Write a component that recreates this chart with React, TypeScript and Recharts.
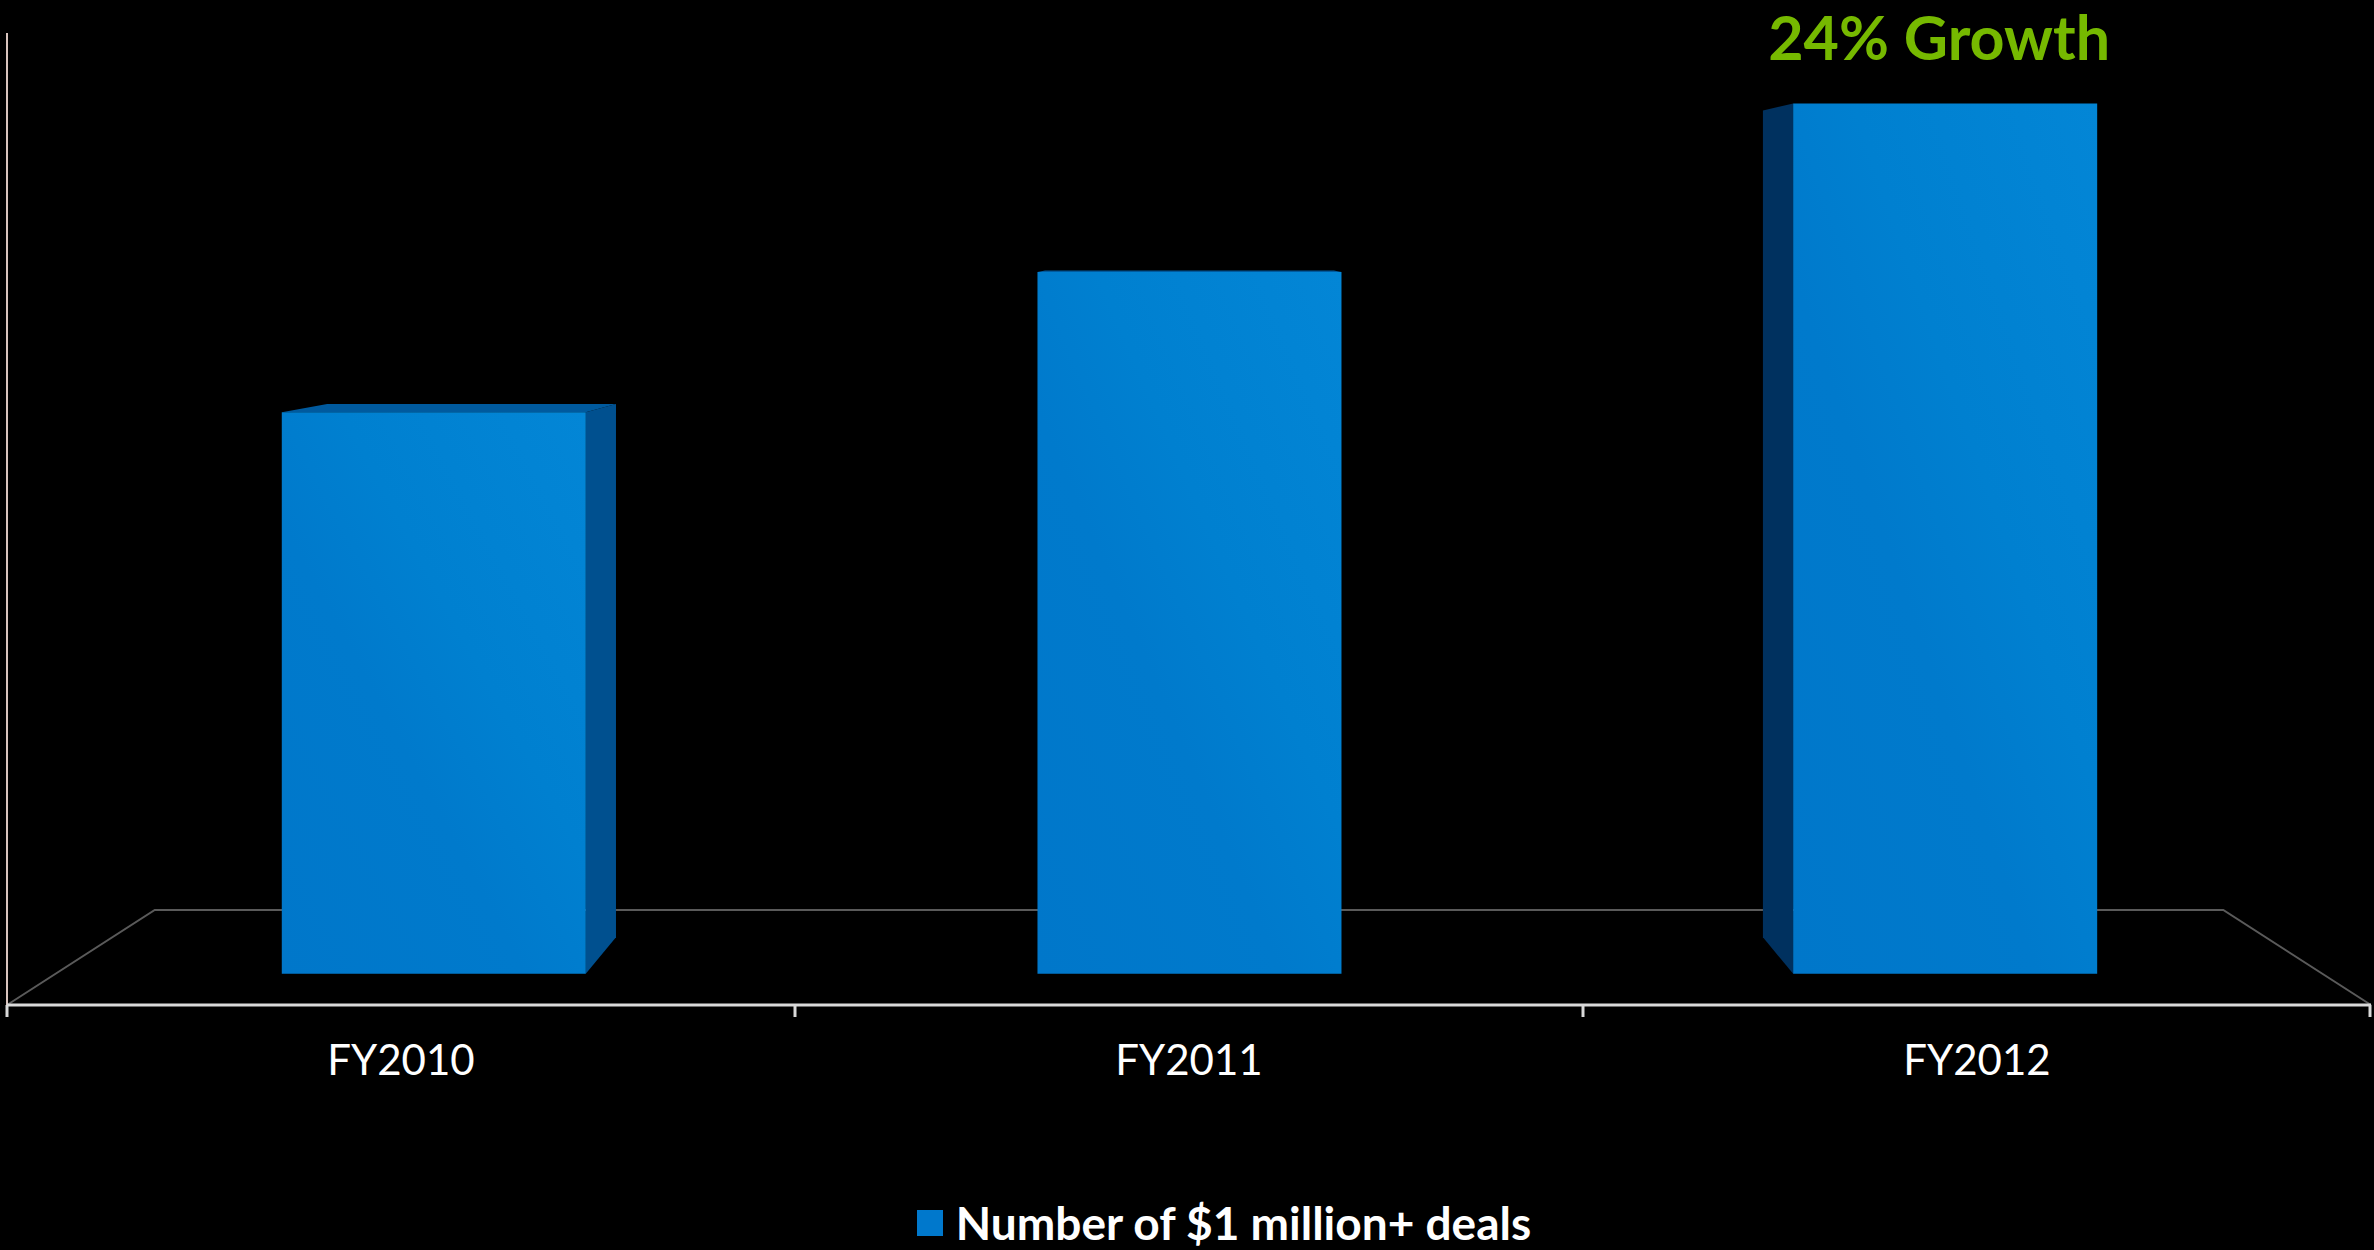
import React from 'react';
import { BarChart, Bar, XAxis, YAxis, Legend, ReferenceArea, LabelList } from 'recharts';

const CATEGORIES = ['FY2010', 'FY2011', 'FY2012'];
const DEALS = [100, 125, 155];
const NOTES = ['', '', '24% Growth'];
const SERIES_NAME = 'Number of $1 million+ deals';

const W = 2374;
const H = 1250;
const MARGIN = { top: 33, right: 3, bottom: 0, left: 7 };
const XAXIS_H = 150;
const LEGEND_H = 95;
const Y_MAX = 166;

// plot box, used for the fake 3D perspective
const PLOT_X = MARGIN.left;
const PLOT_W = W - MARGIN.left - MARGIN.right;
const PLOT_Y = MARGIN.top;
const PLOT_H = H - MARGIN.top - MARGIN.bottom - XAXIS_H - LEGEND_H;
const BAND_W = PLOT_W / CATEGORIES.length;
const VP_X = PLOT_X + PLOT_W / 2;
const VP_Y = PLOT_Y + PLOT_H * 0.218;
const K_FRONT = 0.041;
const K_BACK = 0.089;
const K_FLOOR = 0.125;

const FONT = 'Lato, "Open Sans", sans-serif';

const data = CATEGORIES.map((c, i) => ({ name: c, deals: DEALS[i], note: NOTES[i] }));

const proj = (px: number, py: number, k: number) => [px + (VP_X - px) * k, py + (VP_Y - py) * k];
const pts = (arr: number[][]) => arr.map((p) => `${p[0]},${p[1]}`).join(' ');

const Bar3D = (props: any) => {
  const { x, y, width, height } = props;
  if (width == null || height == null) return null;
  const x0 = x, x1 = x + width, y0 = y, y1 = y + height;
  const fTL = proj(x0, y0, K_FRONT), fTR = proj(x1, y0, K_FRONT);
  const fBR = proj(x1, y1, K_FRONT), fBL = proj(x0, y1, K_FRONT);
  const bTL = proj(x0, y0, K_BACK), bTR = proj(x1, y0, K_BACK);
  const bBR = proj(x1, y1, K_BACK), bBL = proj(x0, y1, K_BACK);
  return (
    <g>
      {fTL[0] > VP_X && <polygon points={pts([fTL, bTL, bBL, fBL])} fill="#00315f" />}
      {fTR[0] < VP_X && <polygon points={pts([fTR, bTR, bBR, fBR])} fill="#00508f" />}
      {fTL[1] > VP_Y && <polygon points={pts([fTL, bTL, bTR, fTR])} fill="#005a9e" />}
      <polygon points={pts([fTL, fTR, fBR, fBL])} fill="url(#frontGrad)" />
    </g>
  );
};

const Floor = (props: any) => {
  const { x, y, width, height } = props;
  const bottom = y + height;
  const kx = (px: number, py: number) => [px + (VP_X - px) * K_FLOOR, py + (VP_Y - py) * K_FLOOR];
  const bl = kx(x, bottom);
  const br = kx(x + width, bottom);
  return (
    <g>
      <polyline points={pts([[x, bottom], bl, br, [x + width, bottom]])} fill="none" stroke="#5a5a5a" strokeWidth={2} />
      <line x1={x} y1={bottom} x2={x} y2={y} stroke="#d9c4be" strokeWidth={2} />
    </g>
  );
};

const CategoryTick = (props: any) => {
  const { x, y, payload, index } = props;
  const half = BAND_W / 2;
  return (
    <g>
      <line x1={x - half} x2={x - half} y1={y} y2={y + 12} stroke="#d9d9d9" strokeWidth={3} />
      {index === CATEGORIES.length - 1 && (
        <line x1={x + half - 1} x2={x + half - 1} y1={y} y2={y + 12} stroke="#d9d9d9" strokeWidth={3} />
      )}
      <text x={x} y={y + 70} textAnchor="middle" fill="#ffffff" fontSize={42} fontFamily={FONT}>
        {payload.value}
      </text>
    </g>
  );
};

const NoteLabel = (props: any) => {
  const { x, y, width, value } = props;
  if (!value) return null;
  const top = proj(x + width / 2, y, K_FRONT);
  return (
    <text x={top[0] - 6} y={top[1] - 43} textAnchor="middle" fill="#76b900" fontSize={61} fontWeight="bold" fontFamily={FONT}>
      {value}
    </text>
  );
};

const LegendBox = () => (
  <div
    style={{
      height: LEGEND_H,
      boxSizing: 'border-box',
      paddingTop: 41,
      paddingLeft: 70,
      display: 'flex',
      justifyContent: 'center',
      alignItems: 'center',
      fontFamily: FONT,
    }}
  >
    <span style={{ width: 26, height: 26, background: '#0078cc', marginRight: 13, display: 'inline-block' }} />
    <span style={{ color: '#fff', fontSize: 46, fontWeight: 'bold', lineHeight: 1 }}>{SERIES_NAME}</span>
  </div>
);

export default function App() {
  return (
    <div style={{ position: 'fixed', left: 0, top: 0, width: W, height: H, background: '#000' }}>
      <BarChart width={W} height={H} data={data} margin={MARGIN}>
        <defs>
          <linearGradient id="frontGrad" x1="1" y1="0" x2="0" y2="1">
            <stop offset="0%" stopColor="#0386d6" />
            <stop offset="40%" stopColor="#0080d0" />
            <stop offset="60%" stopColor="#007acc" />
            <stop offset="100%" stopColor="#0077ca" />
          </linearGradient>
        </defs>
        <XAxis
          dataKey="name"
          height={XAXIS_H}
          axisLine={{ stroke: '#d9d9d9', strokeWidth: 3 }}
          tickLine={false}
          tickSize={0}
          tickMargin={0}
          tick={<CategoryTick />}
          interval={0}
        />
        <YAxis hide domain={[0, Y_MAX]} type="number" />
        <ReferenceArea y1={0} y2={Y_MAX} shape={<Floor />} zIndex={-10} />
        <Legend verticalAlign="bottom" height={LEGEND_H} content={<LegendBox />} />
        <Bar dataKey="deals" name={SERIES_NAME} barSize={317} shape={<Bar3D />} isAnimationActive={false}>
          <LabelList dataKey="note" content={<NoteLabel />} />
        </Bar>
      </BarChart>
    </div>
  );
}
